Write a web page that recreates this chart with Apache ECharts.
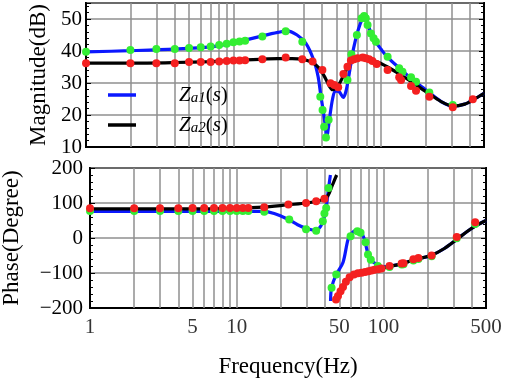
<!DOCTYPE html>
<html>
<head>
<meta charset="utf-8">
<script src="https://cdn.jsdelivr.net/npm/echarts@6/dist/echarts.min.js"></script>
<style>
  html, body { margin: 0; padding: 0; background: #fff; }
  #chart { width: 505px; height: 383px; }
</style>
</head>
<body>
<div id="chart"></div>
<script>
// ---- data: [frequency Hz, value] ----
const magZa1Line = [[1,39.7],[2,40.1],[4,40.6],[7,41.3],[10,42.5],[12,43.4],[16,44.8],[20,45.8],[23,46.3],[27,45.0],[31,42.4],[35,37.2],[37.5,32],[39,26.5],[41,20],[42.2,15.5],[42.8,12.3],[44,16],[45.5,21],[47,25],[49,27.5],[52,27.3],[55.5,25.5],[58,27.5],[61,33],[65,40.5],[70,46.5],[75,50.2],[77.5,50.8],[81,48.5],[86,45.5],[93,42.6],[100,40.6],[111,38.0],[137,34.2],[168,30.6],[200,28.0],[256,24.2],[307,22.8],[370,23.4],[428,24.9],[500,26.8]];
const magZa2Line = [[1,36.2],[2,36.2],[4,36.4],[7,36.7],[10,37.0],[15,37.4],[20,37.6],[25,37.6],[30,37.3],[33.5,36.6],[36.5,35.5],[39,34],[42,31.5],[45,28.8],[47,27.9],[49,28.3],[52,29.6],[55,31.8],[58,34],[62,36.5],[67,37.8],[73,38.3],[80,38.0],[88,37.2],[100,36.1],[111,35.0],[137,32.5],[168,29.8],[208,26.9],[256,24.2],[307,22.8],[370,23.4],[428,24.9],[500,26.8]];
const magZa1Dots = [[1,39.8],[2,40.3],[3,40.6],[4,40.6],[5,40.9],[6,41.2],[7,41.4],[8,41.9],[9,42.3],[10,42.7],[11,43.0],[12,43.2],[15.7,44.5],[22.6,46.2],[29.3,42.9],[38.8,25.7],[40.2,21.6],[41.2,16.3],[42.4,13],[44.2,18.5],[59.3,30.9],[63.1,39],[68.7,45],[74,50.2],[76.9,50.9],[79,50.2],[81.2,48.1],[85.5,45.5],[89.2,44],[92.5,42.9],[111,38.2],[133,34.6],[140,33.5],[160,31.8],[173,30.4],[213,27],[307,23.1]];
const magZa2Dots = [[1,36.2],[2,36.2],[3,36.2],[4,36.2],[5,36.6],[6,36.6],[7,36.6],[8,36.7],[9,36.9],[10,37],[11,37],[12,37.1],[15.7,37.4],[22.6,38],[29.3,37.4],[34.4,36.7],[40.1,34.1],[45.5,29.9],[48.3,29.4],[51.3,28.7],[55.7,32.8],[59.3,35.1],[62.6,37],[65.8,37.4],[69.4,37.7],[75.3,38],[79,37.7],[83.1,37.4],[87.5,36.9],[93.6,35.9],[111,34.1],[133,31.8],[137,30.9],[160,29.1],[173,27.6],[213,25.7],[307,22.4],[420,24.9]];

const phaseZa1Line = [[1,76],[5,76],[10,76.5],[15,76],[18,70],[22.5,53],[26,38],[30,27],[34,22],[36.5,28],[38.5,45],[40,70],[41,95],[42.2,140],[43.5,180],[43.5,null],[43.6,-180],[44.3,-142],[47.7,-104],[53,-70],[57.3,-5],[60.5,13],[65,21],[70,17],[74,-2],[78.5,-45],[84.9,-68],[94,-79],[100,-82],[110,-81],[133,-74],[160,-63],[213,-49],[260,-30],[316,-4],[370,18],[422,34],[500,50]];
const phaseZa2Line = [[1,83],[5,83],[10,85],[15,88],[22.5,95],[30,100],[35,105],[40,112],[42,122],[44,142],[46,162],[48,180],[48,null],[47.8,-180],[49,-170],[51.6,-152],[54.4,-133],[58.8,-114],[63.3,-104],[70.6,-99],[78.5,-95],[87,-90],[96.7,-87],[110,-81],[133,-74],[160,-63],[173,-59],[213,-49],[260,-30],[316,-4],[370,18],[422,34],[500,50]];
const phaseZa1Dots = [[1,77],[2,77],[3,77],[4,77],[5,77],[6,77],[7,77],[8,77],[9,77],[10,77],[11,77],[12,77],[15.4,75],[22.8,53],[29.7,25],[34.8,21],[38.6,48],[39.6,70],[40.7,86],[42.2,143],[44.3,-142],[47.7,-104],[59.7,5],[66.4,19],[69.8,15],[75.5,-12],[78.5,-47],[82,-62],[91.6,-80],[110,-83],[133,-76],[137,-75],[160,-64],[173,-60],[213,-52],[316,-1],[422,40]];
const phaseZa2Dots = [[1,85],[2,85],[3,85],[4,85],[5,86],[6,86],[7,86],[8,86],[9,86],[10,86],[11,86],[12,86],[15.4,88],[22.5,96],[29.7,100],[34.8,105],[39.6,112],[47.5,-176],[49,-166],[51,-152],[53,-140],[55.5,-125],[58.8,-112],[63,-104],[67,-101],[71,-99],[75,-97],[79,-95],[83,-93],[87,-91],[92,-89],[97,-87],[110,-80],[133,-73],[137,-72],[160,-61],[173,-57],[213,-50],[316,3],[422,45]];

const freqTickLabels = [1, 5, 10, 50, 100, 500];
const freqGridLines = [2,3,4,5,6,7,8,9,10,20,30,40,50,60,70,80,90,100,200,300,400];

const FONT = "'Liberation Serif', 'Times New Roman', serif";
const GRID_GRAY = '#8f8f8f';
const BLUE = '#0b18ff', GREEN = '#33ee33', RED = '#f42020';

const chart = echarts.init(document.getElementById('chart'), null, { renderer: 'canvas' });

function minus(v) { return v < 0 ? '\u2212' + (-v) : String(v); }

function xAxisFor(grid, name) {
  return {
    type: 'log', logBase: 10, gridIndex: grid, min: 1, max: 500,
    name: name, nameLocation: 'middle', nameGap: 47,
    nameTextStyle: { fontFamily: FONT, fontSize: 23, color: '#000' },
    axisLine: { show: true, onZero: false, lineStyle: { color: '#000', width: 2 } },
    axisTick: { show: false }, axisLabel: { show: false },
    splitLine: { show: false }, minorTick: { show: false }
  };
}
function yAxisFor(grid, min, max, interval, opts) {
  return Object.assign({
    type: 'value', gridIndex: grid, min: min, max: max, interval: interval,
    axisLine: { show: true, lineStyle: { color: '#000', width: 2 } },
    axisTick: { show: true, inside: true, length: 5, lineStyle: { color: '#000', width: 1 } },
    minorTick: { show: true, splitNumber: 5, length: 3, lineStyle: { color: '#000', width: 1 } },
    splitLine: { show: true, lineStyle: { color: GRID_GRAY, width: 1.5 } },
    axisLabel: { fontFamily: FONT, fontSize: 21, color: '#000', showMaxLabel: false, formatter: minus },
    nameTextStyle: { fontFamily: FONT, fontSize: 23, color: '#000' }
  }, opts);
}
function rightAxis(grid, min, max, interval) {
  return yAxisFor(grid, min, max, interval, {
    position: 'right', axisLabel: { show: false }, splitLine: { show: false }
  });
}
function gridLines() {
  return {
    silent: true, symbol: 'none', z: 1, label: { show: false },
    lineStyle: { color: GRID_GRAY, width: 1.5, type: 'solid' },
    emphasis: { disabled: true },
    data: freqGridLines.map(v => ({ xAxis: v }))
  };
}
function line(name, data, color, grid, withGrid) {
  const s = {
    name: name, type: 'line', data: data, xAxisIndex: grid, yAxisIndex: grid,
    symbol: 'none', smooth: 0.3, connectNulls: false, z: 2,
    lineStyle: { color: color, width: 3.2 }, itemStyle: { color: color }
  };
  if (withGrid) s.markLine = gridLines();
  return s;
}
function dots(data, color, grid, z) {
  return {
    type: 'scatter', data: data, xAxisIndex: grid, yAxisIndex: grid,
    symbolSize: 8, z: z, itemStyle: { color: color, opacity: 1 }, silent: true
  };
}

const option = {
  animation: false,
  backgroundColor: '#fff',
  grid: [
    { left: 86, top: 3, width: 398, height: 144, show: true, borderColor: '#000', borderWidth: 2, outerBoundsMode: 'none', containLabel: false },
    { left: 90, top: 168, width: 396, height: 140, show: true, borderColor: '#000', borderWidth: 2, outerBoundsMode: 'none', containLabel: false }
  ],
  xAxis: [ xAxisFor(0, ''), xAxisFor(1, 'Frequency(Hz)') ],
  yAxis: [
    yAxisFor(0, 10, 55, 10, { name: 'Magnitude(dB)', nameLocation: 'middle', nameGap: 34, axisLabel: { fontFamily: FONT, fontSize: 21, color: '#000', showMaxLabel: false, margin: 4, formatter: minus } }),
    yAxisFor(1, -200, 200, 100, { name: 'Phase(Degree)', nameLocation: 'middle', nameGap: 67, axisLabel: { fontFamily: FONT, fontSize: 21, color: '#000', margin: 7, formatter: minus } }),
    rightAxis(0, 10, 55, 10),
    rightAxis(1, -200, 200, 100)
  ],
  legend: {
    data: ['Za1', 'Za2'], orient: 'vertical', left: 103, top: 79,
    icon: 'rect', itemWidth: 28, itemHeight: 3.5, itemGap: 8, selectedMode: false,
    textStyle: {
      color: '#000', lineHeight: 22,
      rich: {
        z: { fontFamily: FONT, fontStyle: 'italic', fontSize: 21, padding: [0, 0, 0, 38], color: '#000' },
        sub: { fontFamily: FONT, fontStyle: 'italic', fontSize: 15, verticalAlign: 'bottom', lineHeight: 10, color: '#000' },
        p: { fontFamily: FONT, fontSize: 21, color: '#000' },
        s: { fontFamily: FONT, fontStyle: 'italic', fontSize: 21, color: '#000' }
      }
    },
    formatter: function (name) {
      return '{z|Z}{sub|' + (name === 'Za1' ? 'a1' : 'a2') + '}{p|(}{s|s}{p|)}';
    }
  },
  series: [
    line('Za1', magZa1Line, BLUE, 0, true),
    line('Za2', magZa2Line, '#000', 0, false),
    dots(magZa1Dots, GREEN, 0, 3),
    dots(magZa2Dots, RED, 0, 4),
    line('Za1', phaseZa1Line, BLUE, 1, true),
    line('Za2', phaseZa2Line, '#000', 1, false),
    dots(phaseZa1Dots, GREEN, 1, 3),
    dots(phaseZa2Dots, RED, 1, 4),
    {
      type: 'scatter', xAxisIndex: 1, yAxisIndex: 1, silent: true, z: 5,
      data: freqTickLabels.map(v => [v, -200]),
      symbolSize: 1, itemStyle: { color: 'rgba(0,0,0,0)' },
      label: {
        show: true, position: 'bottom', distance: 8,
        fontFamily: FONT, fontSize: 21, color: '#000',
        formatter: p => String(p.value[0])
      }
    }
  ]
};
chart.setOption(option);
</script>
</body>
</html>
